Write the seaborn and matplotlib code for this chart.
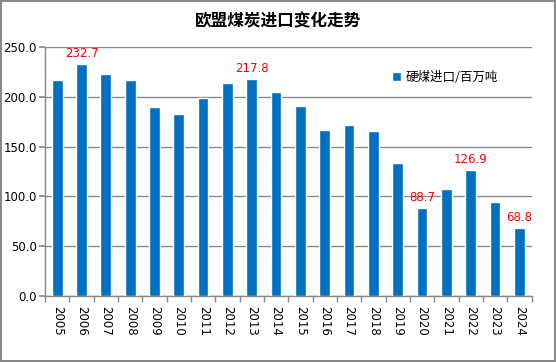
import pandas as pd
import seaborn as sns
import matplotlib.pyplot as plt
import numpy as np

# Data
years = [str(y) for y in range(2005, 2025)]
imports = [216.8, 232.7, 223.1, 216.8, 189.6, 182.6, 198.7, 213.8, 217.8, 204.7,
           190.6, 166.5, 171.5, 165.5, 133.3, 88.7, 107.1, 126.9, 94.0, 68.8]
labeled_years = ['2006', '2013', '2020', '2022', '2024']
series_name = '硬煤进口/百万吨'
title = '欧盟煤炭进口变化走势'

df = pd.DataFrame({'year': years, 'value': imports})

sns.set_theme(style='white')
plt.rcParams['font.family'] = ['DejaVu Sans', 'Noto Sans CJK SC']
plt.rcParams['text.color'] = 'black'

fig = plt.figure(figsize=(5.56, 3.62), dpi=100)
fig.patch.set_edgecolor('#888888')
fig.patch.set_linewidth(1.5)
ax = fig.add_axes([0.081, 0.182, 0.875, 0.688])

sns.barplot(data=df, x='year', y='value', color='#0070C0', width=0.44,
            saturation=1, label=series_name, ax=ax, zorder=3)

ax.set_ylim(0, 250)
ax.set_xlim(-0.5, len(years) - 0.5)
ax.set_yticks(np.arange(0, 251, 50))
ax.set_yticklabels([f'{v:.1f}' for v in np.arange(0, 251, 50)], fontsize=8.5)
ax.yaxis.grid(True, color='#888888', linewidth=1, zorder=0)
ax.set_axisbelow(True)

# category labels rotated, ticks at category boundaries like the original
ax.set_xticks(range(len(years)))
ax.set_xticklabels(years, rotation=-90, fontsize=8.5, va='top')
ax.tick_params(axis='x', which='major', length=0, pad=7, labelcolor='black')
ax.set_xticks(np.arange(-0.5, len(years), 1), minor=True)
ax.tick_params(axis='x', which='minor', length=4, color='#888888', direction='out', bottom=True)
ax.tick_params(axis='y', length=4, color='#888888', direction='out', left=True, pad=2,
               labelcolor='black')

for s in ['top', 'right']:
    ax.spines[s].set_visible(False)
for s in ['left', 'bottom']:
    ax.spines[s].set_color('#888888')
    ax.spines[s].set_linewidth(1)

ax.set_xlabel('')
ax.set_ylabel('')

for i, (y, v) in enumerate(zip(years, imports)):
    if y in labeled_years:
        ax.text(i, v + 4, f'{v:.1f}', color='#FF0000', ha='center', va='bottom', fontsize=8.5)

fig.suptitle(title, y=0.965, fontsize=12, fontweight='bold', color='black',
             family=['Noto Sans CJK SC', 'DejaVu Sans'])

leg = ax.legend(loc='upper left', bbox_to_anchor=(0.69, 0.95), frameon=False,
                handlelength=0.7, handleheight=0.7, handletextpad=0.4, labelcolor='black',
                prop={'family': ['Noto Sans CJK SC', 'DejaVu Sans'], 'size': 9})

fig.savefig('out.png', dpi=100, edgecolor=fig.get_edgecolor())
